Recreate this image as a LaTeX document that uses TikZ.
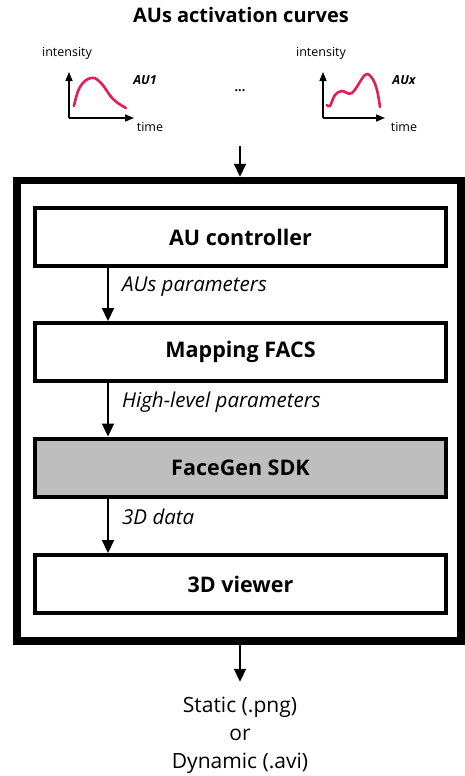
\documentclass[tikz,border=0pt]{standalone}
\usepackage{fontspec}
\setmainfont{Open Sans}
\usetikzlibrary{positioning,arrows.meta}
\definecolor{curvered}{RGB}{226,30,84}
\definecolor{sdkgray}{RGB}{190,190,190}

\begin{document}
\begin{tikzpicture}[x=1pt,y=1pt,
	block/.style={draw,line width=4pt,minimum width=411pt,minimum height=58pt,inner sep=0pt,font=\fontsize{21.5}{25}\selectfont\bfseries},
	flow/.style={line width=2.2pt,-{Triangle[width=12pt,length=13pt]}},
	axis/.style={line width=1.5pt,-{Triangle[width=7pt,length=9pt]}},
	curve/.style={curvered,line width=2.6pt,line cap=round},
	small/.style={inner sep=0pt,font=\fontsize{12.5}{14}\selectfont},
	param/.style={inner sep=0pt,anchor=west,font=\fontsize{20.5}{24}\selectfont\itshape}]
		\useasboundingbox (0,0) rectangle (465,-776);
		\node (title) at (241,-15) {\fontsize{20}{24}\selectfont\bfseries AUs activation curves};
		\coordinate (o1) at (69,-118);
		\coordinate (o2) at (323,-118);
		\draw [axis] (o1) -- ++(0,46) coordinate (y1);
		\draw [axis] (o1) -- ++(65,0) coordinate (x1);
		\draw [axis] (o2) -- ++(0,46) coordinate (y2);
		\draw [axis] (o2) -- ++(62,0) coordinate (x2);
		\node (int1) [small] at (67,-53) {intensity};
		\node (time1) [small] at (150,-127) {time};
		\node (au1) [small,font=\fontsize{12.5}{14}\selectfont\bfseries\itshape] at (145,-80) {AU1};
		\node (int2) [small] at (321,-53) {intensity};
		\node (time2) [small] at (404,-127) {time};
		\node (aux) [small,font=\fontsize{12.5}{14}\selectfont\bfseries\itshape] at (404,-80) {AUx};
		\node (dots) [small,font=\fontsize{12.5}{14}\selectfont\bfseries] at (240,-91) {...};
		\draw [curve] plot [smooth,tension=0.7] coordinates {(74,-106) (80,-87) (91,-78) (101,-83) (113,-99) (126,-108)};
		\draw [curve] plot [smooth,tension=0.6] coordinates {(327,-105) (330,-106) (335,-95) (342,-91) (352,-93) (365,-75) (372,-78) (377,-90) (380,-107)};
		\node (frame) [draw,line width=7.5pt,minimum width=444pt,minimum height=460.5pt,inner sep=0pt] at (239,-410.75) {};
		\coordinate (in) at (240,-146);
		\draw [flow] (in) -- (in |- frame.north);
		\node (ctrl) [block] at (240.5,-237) {AU controller};
		\node (map) [block] at (240.5,-352) {Mapping FACS};
		\node (sdk) [block,fill=sdkgray] at (240.5,-467.5) {FaceGen SDK};
		\node (view) [block] at (240.5,-584) {3D viewer};
		\draw [flow] ([xshift=75pt]ctrl.south west) -- ([xshift=75pt]map.north west);
		\draw [flow] ([xshift=75pt]map.south west) -- ([xshift=75pt]sdk.north west);
		\draw [flow] ([xshift=75pt]sdk.south west) -- ([xshift=75pt]view.north west);
		\node (p1) [param] at (122,-287) {AUs parameters};
		\node (p2) [param] at (122,-402) {High-level parameters};
		\node (p3) [param] at (122,-517) {3D data};
		\node (out) [align=center,inner sep=0pt,font=\fontsize{21}{28}\selectfont] at (240,-735) {Static (.png)\\or\\Dynamic (.avi)};
		\draw [flow] (frame.south -| out) -- ++(0,-37);
\end{tikzpicture}
\end{document}
